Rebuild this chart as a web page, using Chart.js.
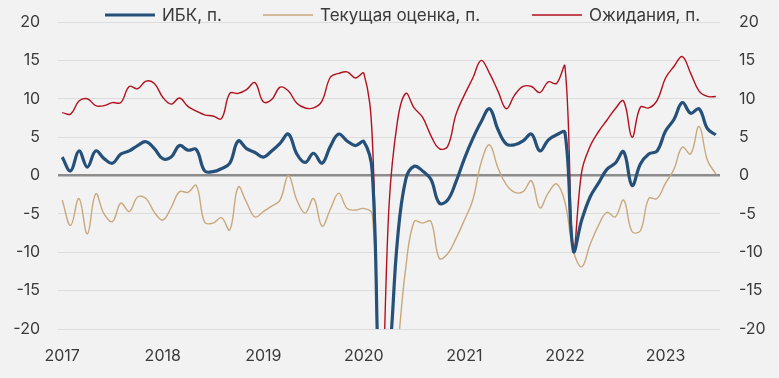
<!DOCTYPE html>
<html><head><meta charset="utf-8">
<script src="https://cdn.jsdelivr.net/npm/chart.js@4.4.1/dist/chart.umd.min.js"></script>
<style>html,body{margin:0;padding:0;background:#f2f2f2}#wrap{width:779px;height:378px}</style>
</head><body><div id="wrap"><canvas id="c" width="779" height="378"></canvas></div>
<script>
const years = ['2017', '2018', '2019', '2020', '2021', '2022', '2023'];
const monthNames = ['янв', 'фев', 'мар', 'апр', 'май', 'июн', 'июл', 'авг', 'сен', 'окт', 'ноя', 'дек'];
const lastMonthCount = 7; // 2023: Jan–Jul
const categories = [];
years.forEach((y, yi) => {
  const n = yi === years.length - 1 ? lastMonthCount : 12;
  for (let m = 0; m < n; m++) categories.push(monthNames[m] + ' ' + y);
});

const seriesNames = ['ИБК, п.', 'Текущая оценка, п.', 'Ожидания, п.'];
const ibk = [2.4, 0.6, 3.2, 1.1, 3.2, 2.2, 1.6, 2.8, 3.2, 3.9,
  4.4, 3.5, 2.2, 2.4, 3.9, 3.3, 3.4, 0.6, 0.5, 0.9,
  1.6, 4.5, 3.5, 3.0, 2.4, 3.2, 4.2, 5.4, 2.8, 1.7,
  2.9, 1.6, 3.8, 5.4, 4.5, 3.9, 4.4, 0.5, -30, -24,
  -8.5, -0.5, 1.2, 0.6, -0.5, -3.6, -3.2, -0.8, 2.2, 4.8,
  7.0, 8.7, 6.0, 4.1, 4.0, 4.5, 5.4, 3.2, 4.6, 5.3,
  5.6, -9.8, -5.8, -2.8, -1.0, 0.8, 1.6, 3.1, -1.3, 1.5,
  2.8, 3.2, 5.8, 7.3, 9.5, 8.1, 8.7, 6.1, 5.3];
const currentState = [-3.2, -6.5, -3.0, -7.6, -2.4, -5.0, -6.0, -3.6, -4.7, -2.8,
  -3.0, -4.8, -5.8, -4.2, -2.1, -2.2, -1.3, -6.1, -6.2, -5.5,
  -7.1, -1.5, -3.5, -5.4, -4.7, -4.0, -3.2, 0.0, -3.2, -4.9,
  -3.0, -6.6, -4.4, -2.3, -4.3, -4.5, -4.3, -5.0, -28, -33,
  -23, -12, -6.0, -6.2, -6.0, -10.8, -10.2, -8.2, -5.8, -3.2,
  1.7, 4.0, 1.0, -1.2, -2.2, -2.1, -0.7, -4.2, -2.3, -1.1,
  -3.5, -9.8, -11.9, -9.0, -6.5, -4.8, -5.4, -3.2, -7.3, -7.2,
  -3.0, -3.0, -1.0, 0.8, 3.7, 2.8, 6.4, 2.0, 0.2];
const expectations = [8.2, 8.0, 9.7, 10.0, 9.1, 9.1, 9.5, 9.5, 11.6, 11.3,
  12.3, 12.0, 10.2, 9.3, 10.1, 9.0, 8.4, 7.9, 7.75, 7.4,
  10.7, 10.7, 11.2, 12.1, 9.6, 9.9, 11.5, 11.0, 9.4, 8.8,
  8.8, 9.7, 12.8, 13.3, 13.5, 12.7, 13.3, 5.0, -33, -4.0,
  7.0, 10.7, 8.8, 7.6, 5.2, 3.5, 3.8, 8.0, 10.5, 12.7,
  15.0, 13.3, 11.0, 8.7, 10.5, 11.6, 11.6, 10.8, 12.2, 12.0,
  14.2, -9.8, 0.5, 3.8, 5.7, 7.2, 8.7, 9.7, 5.0, 8.9,
  8.8, 9.8, 12.7, 14.2, 15.5, 13.3, 11.0, 10.3, 10.3];
const yTickValues = [-20, -15, -10, -5, 0, 5, 10, 15, 20];

const FONT = 'Inter';
const TEXT = '#3a3a3a';

const legendPlugin = {
  id: 'topLegend',
  afterDraw(chart, args, opts) {
    const ctx = chart.ctx;
    ctx.save();
    ctx.font = '17px ' + FONT;
    ctx.textBaseline = 'middle';
    ctx.fillStyle = TEXT;
    const y = 15;
    chart.data.datasets.forEach((ds, i) => {
      const x = opts.starts[i];
      ctx.strokeStyle = ds.borderColor;
      ctx.lineWidth = ds.borderWidth;
      ctx.beginPath();
      ctx.moveTo(x, y);
      ctx.lineTo(x + 50, y);
      ctx.stroke();
      ctx.fillText(ds.label, x + 57, y + 1);
    });
    ctx.restore();
  }
};

const fitY = w => s => { s.width = w; s.paddingTop = 0; s.paddingBottom = 0; };

new Chart(document.getElementById('c'), {
  type: 'line',
  data: {
    labels: categories,
    datasets: [
      { label: seriesNames[0], data: ibk, borderColor: '#255079', borderWidth: 3.2 },
      { label: seriesNames[1], data: currentState, borderColor: '#c9a87c', borderWidth: 1.4 },
      { label: seriesNames[2], data: expectations, borderColor: '#b2101f', borderWidth: 1.4 }
    ]
  },
  options: {
    responsive: false,
    animation: false,
    layout: { padding: { top: 22, left: 0, right: 0, bottom: 0 } },
    elements: { point: { radius: 0 }, line: { tension: 0.4 } },
    plugins: { legend: { display: false }, tooltip: { enabled: false }, topLegend: { starts: [105, 263, 532] } },
    scales: {
      x: {
        type: 'category',
        offset: true,
        grid: { display: false, drawTicks: false },
        border: { display: false },
        afterBuildTicks: s => { s.ticks = s.ticks.filter(t => t.value % 12 === 0); },
        afterFit: s => { s.height = 49; s.paddingLeft = 0; s.paddingRight = 0; },
        ticks: {
          autoSkip: false, maxRotation: 0, padding: 18,
          color: TEXT, font: { family: FONT, size: 16 },
          callback: v => years[v / 12]
        }
      },
      y: {
        position: 'left', min: -20, max: 20,
        afterBuildTicks: s => { s.ticks = yTickValues.map(v => ({ value: v })); },
        afterFit: fitY(58),
        grid: {
          drawTicks: false,
          color: c => c.tick && c.tick.value === 0 ? '#8c8c8c' : '#dcdcdc',
          lineWidth: c => c.tick && c.tick.value === 0 ? 2.6 : 1
        },
        border: { display: false },
        ticks: { padding: 18, color: TEXT, font: { family: FONT, size: 16 } }
      },
      y2: {
        position: 'right', min: -20, max: 20,
        afterBuildTicks: s => { s.ticks = yTickValues.map(v => ({ value: v })); },
        afterFit: fitY(59),
        grid: { display: false, drawTicks: false },
        border: { display: false },
        ticks: { padding: 19, color: TEXT, font: { family: FONT, size: 16 } }
      }
    }
  },
  plugins: [legendPlugin]
});
</script></body></html>
